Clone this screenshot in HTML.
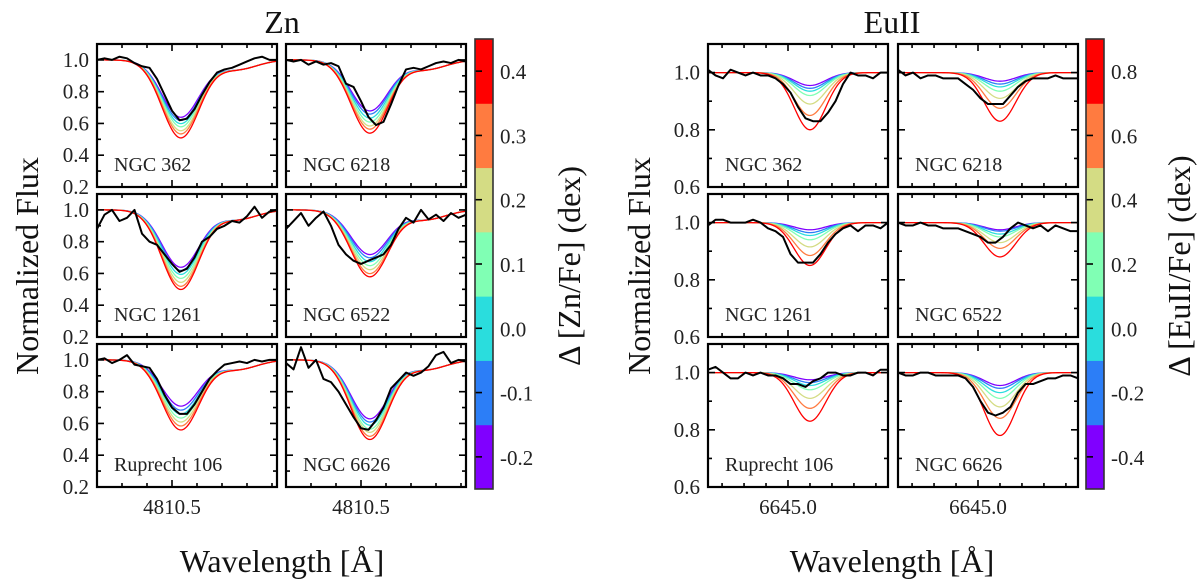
<!DOCTYPE html>
<html><head><meta charset="utf-8"><style>
html,body{margin:0;padding:0;background:#fff;}
svg{display:block;font-family:"Liberation Serif",serif;}
svg text{font-family:"Liberation Serif","DejaVu Serif",serif;}
</style></head><body>
<svg id="fig" width="1200" height="584" viewBox="0 0 1200 584" xmlns="http://www.w3.org/2000/svg"></svg>
<script>
// ---------- data ----------
const clusterNames = ["NGC 362","NGC 6218","NGC 1261","NGC 6522","Ruprecht 106","NGC 6626"];
const znModelMinima = [
 [0.64,0.62,0.60,0.58,0.555,0.535,0.51],
 [0.68,0.66,0.635,0.61,0.585,0.565,0.54],
 [0.64,0.62,0.595,0.57,0.545,0.52,0.50],
 [0.72,0.70,0.675,0.65,0.625,0.60,0.58],
 [0.71,0.685,0.66,0.635,0.61,0.585,0.56],
 [0.63,0.61,0.59,0.565,0.545,0.52,0.50]
];
const euModelMinima = [
 [0.955,0.945,0.935,0.92,0.89,0.85,0.80],
 [0.97,0.96,0.95,0.935,0.91,0.875,0.83],
 [0.975,0.965,0.955,0.94,0.915,0.885,0.85],
 [0.975,0.97,0.96,0.95,0.93,0.91,0.88],
 [0.975,0.965,0.955,0.94,0.91,0.875,0.83],
 [0.955,0.945,0.93,0.91,0.88,0.84,0.78]
];
const znObserved = [
 [1.0,1.01,1.0,1.02,1.01,0.98,0.96,0.95,0.88,0.78,0.68,0.62,0.63,0.69,0.78,0.86,0.92,0.94,0.95,0.97,0.99,1.01,1.02,1.0,1.0],
 [1.0,0.99,1.0,0.97,0.99,0.97,0.98,0.96,0.85,0.83,0.74,0.64,0.59,0.61,0.72,0.84,0.94,0.95,0.94,0.96,0.98,0.99,0.98,1.0,0.99],
 [0.88,0.97,1.0,0.93,0.95,1.0,0.85,0.80,0.78,0.72,0.66,0.61,0.63,0.70,0.80,0.83,0.88,0.90,0.93,0.92,0.96,1.02,0.95,0.99,1.0],
 [0.88,0.93,0.98,0.90,0.95,0.99,0.90,0.78,0.72,0.68,0.66,0.68,0.70,0.72,0.78,0.88,0.95,0.92,1.0,0.94,0.97,0.93,0.98,0.95,0.97],
 [1.0,1.01,0.98,1.0,1.03,0.97,0.96,0.95,0.88,0.78,0.70,0.66,0.66,0.72,0.80,0.88,0.93,0.97,0.98,0.99,0.98,1.0,0.99,1.0,1.0],
 [0.98,0.94,1.08,0.95,1.0,0.88,0.86,0.80,0.72,0.64,0.57,0.56,0.62,0.70,0.82,0.87,0.92,0.90,0.92,0.96,1.03,1.05,0.98,1.0,0.99]
];
const euObserved = [
 [1.01,0.99,0.98,1.01,1.0,0.99,1.0,0.99,0.99,0.98,0.96,0.93,0.88,0.84,0.83,0.83,0.86,0.90,0.96,1.0,0.99,0.99,0.98,1.0,1.0],
 [1.01,0.99,1.0,0.98,0.99,0.99,0.98,0.98,0.98,0.96,0.94,0.91,0.89,0.89,0.89,0.92,0.95,0.97,0.98,0.98,0.98,0.99,0.98,0.98,0.98],
 [0.99,1.01,1.01,1.0,1.0,1.0,1.01,1.0,0.98,0.97,0.95,0.89,0.86,0.86,0.86,0.89,0.93,0.96,0.98,0.99,0.97,0.99,0.99,0.98,1.0],
 [1.0,0.99,0.99,1.0,0.99,0.99,0.98,0.98,0.98,0.97,0.96,0.95,0.93,0.93,0.95,0.98,1.0,0.99,0.98,0.99,0.97,0.99,0.98,0.97,0.97],
 [1.01,1.02,1.0,0.98,0.98,1.0,0.99,1.0,0.99,0.99,0.98,0.96,0.96,0.95,0.97,0.98,1.0,1.0,0.99,0.99,1.0,1.0,0.99,1.01,1.01],
 [1.0,0.99,0.99,1.0,1.0,0.99,0.99,0.99,0.99,0.98,0.95,0.90,0.86,0.85,0.86,0.88,0.93,0.96,0.96,0.97,0.98,0.98,0.99,0.99,0.98]
];
const znCbarTicks = ["-0.2","-0.1","0.0","0.1","0.2","0.3","0.4"];
const euCbarTicks = ["-0.4","-0.2","0.0","0.2","0.4","0.6","0.8"];
const znYTicks = [0.2,0.4,0.6,0.8,1.0];
const euYTicks = [0.6,0.8,1.0];
const znXTickLabel = "4810.5";
const euXTickLabel = "6645.0";
const levelColors = ["#8000ff","#2c7ef7","#2adddd","#80ffb4","#d4dc84","#ff7b40","#ff0000"];

// ---------- drawing ----------
const NS="http://www.w3.org/2000/svg";
const svg=document.getElementById('fig');
const FF='"Liberation Serif", "DejaVu Serif", serif';
function mk(tag,attrs,parent){const e=document.createElementNS(NS,tag);for(const k in attrs)e.setAttribute(k,attrs[k]);if(tag==='text')e.setAttribute('font-family',FF);(parent||svg).appendChild(e);return e;}

const rowsY=[44,194,344], rowH=143;

function drawFigure(cfg){
  const g=mk('g',{});
  
  
  for(let p=0;p<6;p++){
    const col=p%2,row=Math.floor(p/2);
    const x0=cfg.colX[col],x1=x0+180,y0=rowsY[row],y1=y0+rowH;
    const sx=w=>x0+(w-cfg.xmin)/(cfg.xmax-cfg.xmin)*(x1-x0);
    const sy=v=>y1-(v-cfg.ymin)/(cfg.ymax-cfg.ymin)*(y1-y0);
    const pg=mk('g',{},g);
    
    
    const clipId='c'+cfg.key+p;
    const cp=mk('clipPath',{id:clipId},pg);mk('rect',{x:x0,y:y0,width:180,height:rowH},cp);
    const lg=mk('g',{'clip-path':'url(#'+clipId+')'},pg);
    const mins=cfg.models[p];
    for(let i=0;i<mins.length;i++){
      let d='';
      for(let k=0;k<=120;k++){
        const w=cfg.xmin+(cfg.xmax-cfg.xmin)*k/120;
        let f=1-(1-mins[i])*Math.exp(-0.5*Math.pow((w-cfg.center)/cfg.sigma,2));
        if(cfg.blend) f-=cfg.blend*Math.exp(-0.5*Math.pow((w-cfg.blendC)/cfg.blendS,2));
        d+=(k?'L':'M')+sx(w).toFixed(2)+','+sy(f).toFixed(2);
      }
      const pl=mk('path',{d:d,fill:'none',stroke:levelColors[i],'stroke-width':1.3},lg);
      
      
    }
    const obs=cfg.obs[p];let d='';
    obs.forEach((v,k)=>{const w=cfg.xmin+(cfg.xmax-cfg.xmin)*k/(obs.length-1);d+=(k?'L':'M')+sx(w).toFixed(2)+','+sy(v).toFixed(2);});
    const op=mk('path',{d:d,fill:'none',stroke:'#000','stroke-width':2,'stroke-linejoin':'round'},lg);
    
    
    let td='';
    for(let v=cfg.ymin;v<=cfg.ymax+1e-6;v+=0.1){
      const y=sy(v),L=(Math.abs(Math.round(v*10)%2)===0)?7:4;
      td+=`M${x0},${y}h${L}M${x1},${y}h${-L}`;
    }
    for(let k=Math.ceil(cfg.xmin*10);k<=cfg.xmax*10;k++){
      const x=sx(k/10),L=(Math.abs(k/10-cfg.xmaj)<1e-6)?7:4;
      td+=`M${x},${y0}v${L}M${x},${y1}v${-L}`;
    }
    mk('path',{d:td,stroke:'#000','stroke-width':1.6,fill:'none'},pg);
    const fr=mk('rect',{x:x0,y:y0,width:180,height:rowH,fill:'none',stroke:'#000','stroke-width':2.2},pg);
    
    
    const lab=mk('text',{x:x0+17,y:y1-16,'font-size':20,fill:'#222'},pg);lab.textContent=clusterNames[p];
    
    
    if(col===0){
      cfg.yticks.forEach(v=>{
        const t=mk('text',{x:x0-8,y:sy(v)+7,'font-size':21,'text-anchor':'end',fill:'#222'},pg);
        t.textContent=v.toFixed(1);
        
        
      });
    }
    if(row===2){
      const t=mk('text',{x:sx(cfg.xmaj),y:y1+27,'font-size':21,'text-anchor':'middle',fill:'#222'},pg);
      t.textContent=cfg.xlabel;
      
      
    }
  }
  const t=mk('text',{x:cfg.midX,y:33,'font-size':32,'text-anchor':'middle',fill:'#111'},g);t.textContent=cfg.title;
  
  
  const xl=mk('text',{x:cfg.midX,y:572,'font-size':32,'text-anchor':'middle',fill:'#111'},g);xl.textContent='Wavelength [Å]';
  
  
  const yl=mk('text',{x:0,y:0,'font-size':32,'text-anchor':'middle',fill:'#111',transform:`translate(${cfg.ylabX},266) rotate(-90)`},g);yl.textContent='Normalized Flux';
  
  
  const cb=mk('g',{},g);
  
  
  const cx=cfg.cbX,cT=39,cB=489,bh=(cB-cT)/7;
  for(let i=0;i<7;i++){
    const r=mk('rect',{x:cx,y:cB-(i+1)*bh,width:18,height:bh+0.5,fill:levelColors[i]},cb);
    
    
    const yc=cB-(i+0.5)*bh;
    mk('path',{d:`M${cx},${yc}h7`,stroke:'#000','stroke-width':1.6},cb);
    const tl=mk('text',{x:cx+25,y:yc+8,'font-size':21,fill:'#222'},cb);tl.textContent=cfg.cbTicks[i];
    
    
  }
  mk('rect',{x:cx,y:cT,width:18,height:cB-cT,fill:'none',stroke:'#333','stroke-width':1.6},cb);
  const cl=mk('text',{x:0,y:0,'font-size':32,'text-anchor':'middle',fill:'#111',transform:`translate(${cfg.cbLabX},266) rotate(-90)`},cb);
  cl.textContent=cfg.cbLabel;
  
  
}

drawFigure({key:'zn',title:'Zn',colX:[97,286],xmin:4810.2,xmax:4810.92,xmaj:4810.5,center:4810.535,sigma:0.075,
  blend:0.06,blendC:4810.76,blendS:0.08,ymin:0.2,ymax:1.1,yticks:znYTicks,models:znModelMinima,obs:znObserved,
  xlabel:znXTickLabel,midX:282,ylabX:38,cbX:475,cbTicks:znCbarTicks,cbLabel:'Δ [Zn/Fe] (dex)',cbLabX:580});
drawFigure({key:'eu',title:'EuII',colX:[708,898],xmin:6644.636,xmax:6645.455,xmaj:6645.0,center:6645.1,sigma:0.072,
  blend:0,ymin:0.6,ymax:1.1,yticks:euYTicks,models:euModelMinima,obs:euObserved,
  xlabel:euXTickLabel,midX:892,ylabX:650,cbX:1086,cbTicks:euCbarTicks,cbLabel:'Δ [EuII/Fe] (dex)',cbLabX:1190});
</script>
</body></html>
